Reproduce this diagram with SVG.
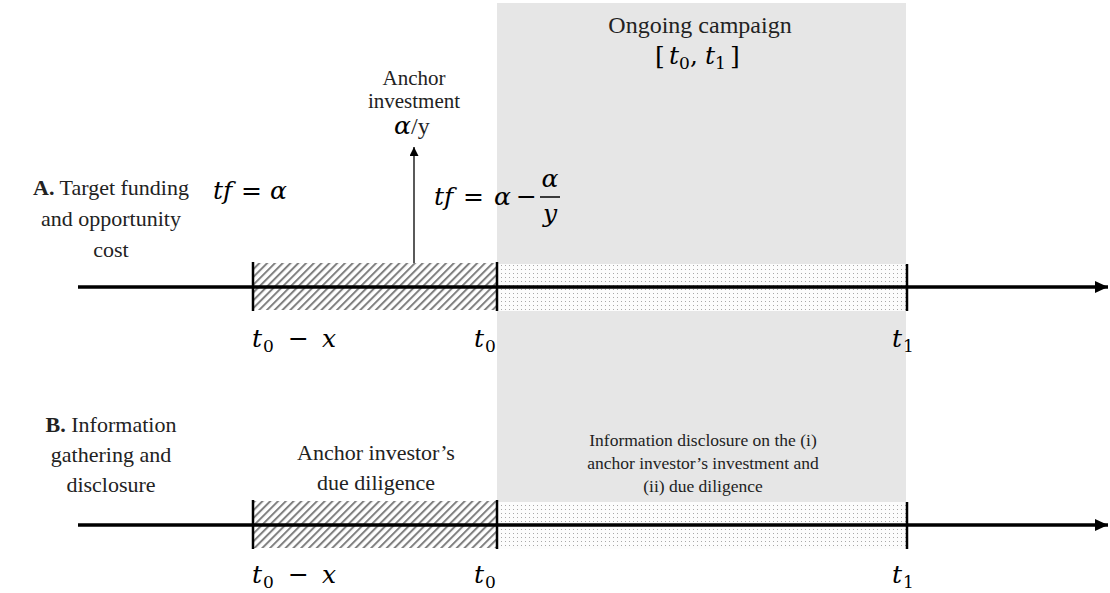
<svg xmlns="http://www.w3.org/2000/svg" width="1110" height="593" viewBox="0 0 1110 593">
<defs>
<pattern id="hatch" width="5.5" height="5.5" patternUnits="userSpaceOnUse" patternTransform="rotate(45)">
<rect width="5.5" height="5.5" fill="#fff"/>
<rect x="0" y="0" width="2" height="5.5" fill="#808080"/>
</pattern>
<pattern id="dots" width="4" height="4" patternUnits="userSpaceOnUse">
<rect width="4" height="4" fill="#fcfcfc"/>
<rect x="1" y="1" width="1" height="1" fill="#a8a8a8"/>
</pattern>
<marker id="bigArrow" markerWidth="13" markerHeight="12" refX="13" refY="6" orient="auto" markerUnits="userSpaceOnUse">
<path d="M0,0 L13,6 L0,12 Z" fill="#000"/>
</marker>
<marker id="smallArrow" markerWidth="9" markerHeight="10" refX="9" refY="4.5" orient="auto" markerUnits="userSpaceOnUse">
<path d="M0,0 L9,4.5 L0,9 Z" fill="#000"/>
</marker>
</defs>
<style>
.t{font-family:"Liberation Serif","DejaVu Serif",serif;fill:#222;}
.lab{font-size:22px;}
.big{font-size:24px;}
.small{font-size:17.5px;}
.m{font-family:"DejaVu Serif","Liberation Serif",serif;font-style:italic;fill:#000;font-size:25px;}
.mu{font-family:"DejaVu Serif","Liberation Serif",serif;font-style:normal;}
.sub{font-family:"DejaVu Serif","Liberation Serif",serif;font-style:normal;font-size:17px;}
.tick{stroke:#000;stroke-width:2.5;}
.axis{stroke:#000;stroke-width:3.5;fill:none;}
</style>
<rect id="campaign-bg" x="497" y="3" width="409" height="543" fill="#e6e6e6"/>
<g id="nodes">
<g id="row-a">
<rect x="253" y="263" width="244" height="47" fill="url(#hatch)"/>
<rect x="497" y="264" width="409" height="47" fill="url(#dots)"/>
</g>
<g id="row-b">
<rect x="253" y="501" width="244" height="47" fill="url(#hatch)"/>
<rect x="497" y="502" width="409" height="47" fill="url(#dots)"/>
</g>
</g>
<g id="connectors">
<line class="axis" x1="78" y1="287" x2="1108" y2="287" marker-end="url(#bigArrow)"/>
<line class="axis" x1="78" y1="525" x2="1108" y2="525" marker-end="url(#bigArrow)"/>
<line class="tick" x1="253" y1="262" x2="253" y2="311"/>
<line class="tick" x1="497" y1="262" x2="497" y2="311"/>
<line class="tick" x1="907" y1="264" x2="907" y2="311"/>
<line class="tick" x1="253" y1="500" x2="253" y2="549"/>
<line class="tick" x1="497" y1="500" x2="497" y2="549"/>
<line class="tick" x1="907" y1="502" x2="907" y2="549"/>
<line stroke="#000" stroke-width="1.3" x1="414" y1="263" x2="414" y2="147" marker-end="url(#smallArrow)"/>
</g>
<g id="title">
<text class="t big" x="700" y="33" text-anchor="middle">Ongoing campaign</text>
<text class="m" y="64"><tspan class="mu" x="655">[</tspan><tspan x="669">t</tspan><tspan class="sub" x="679" dy="5">0</tspan><tspan class="mu" x="690" dy="-5">,</tspan><tspan x="705">t</tspan><tspan class="sub" x="715" dy="5">1</tspan><tspan class="mu" x="730" dy="-5">]</tspan></text>
</g>
<g id="anchor-label">
<text class="t" font-size="21" x="414" y="85" text-anchor="middle">Anchor</text>
<text class="t" font-size="21" x="414" y="108" text-anchor="middle">investment</text>
<text class="m" y="134" font-size="23"><tspan x="394">α</tspan><tspan class="t" x="411" font-size="24" font-style="normal">/y</tspan></text>
</g>
<g id="label-a">
<text class="t lab" x="111" y="195" text-anchor="middle"><tspan font-weight="bold">A.</tspan> Target funding</text>
<text class="t lab" x="111" y="226" text-anchor="middle">and opportunity</text>
<text class="t lab" x="111" y="257" text-anchor="middle">cost</text>
</g>
<g id="tf-before">
<text class="m" y="199"><tspan x="213">t</tspan><tspan x="223">f</tspan><tspan class="mu" x="241">=</tspan><tspan x="270">α</tspan></text>
</g>
<g id="tf-after">
<text class="m" y="205"><tspan x="434">t</tspan><tspan x="444">f</tspan><tspan class="mu" x="463">=</tspan><tspan x="494">α</tspan><tspan class="mu" x="516">−</tspan></text>
<text class="m" x="550" y="187" text-anchor="middle">α</text>
<line x1="540" y1="197" x2="560" y2="197" stroke="#000" stroke-width="1.5"/>
<text class="m" x="550" y="222" text-anchor="middle">y</text>
</g>
<g id="ticks-a">
<text class="m" y="347"><tspan x="252">t</tspan><tspan class="sub" x="263" dy="5">0</tspan><tspan class="mu" x="288" dy="-5">−</tspan><tspan x="322">x</tspan></text>
<text class="m" y="347"><tspan x="474">t</tspan><tspan class="sub" x="485" dy="5">0</tspan></text>
<text class="m" y="347"><tspan x="892">t</tspan><tspan class="sub" x="903" dy="5">1</tspan></text>
</g>
<g id="label-b">
<text class="t lab" x="111" y="432" text-anchor="middle"><tspan font-weight="bold">B.</tspan> Information</text>
<text class="t lab" x="111" y="462" text-anchor="middle">gathering and</text>
<text class="t lab" x="111" y="492" text-anchor="middle">disclosure</text>
</g>
<g id="due-diligence">
<text class="t lab" x="376" y="460" text-anchor="middle">Anchor investor’s</text>
<text class="t lab" x="376" y="490" text-anchor="middle">due diligence</text>
</g>
<g id="disclosure">
<text class="t small" x="703" y="446" text-anchor="middle">Information disclosure on the (i)</text>
<text class="t small" x="703" y="469" text-anchor="middle">anchor investor’s investment and</text>
<text class="t small" x="703" y="492" text-anchor="middle">(ii) due diligence</text>
</g>
<g id="ticks-b">
<text class="m" y="583"><tspan x="252">t</tspan><tspan class="sub" x="263" dy="5">0</tspan><tspan class="mu" x="288" dy="-5">−</tspan><tspan x="322">x</tspan></text>
<text class="m" y="583"><tspan x="474">t</tspan><tspan class="sub" x="485" dy="5">0</tspan></text>
<text class="m" y="583"><tspan x="892">t</tspan><tspan class="sub" x="903" dy="5">1</tspan></text>
</g>
</svg>
